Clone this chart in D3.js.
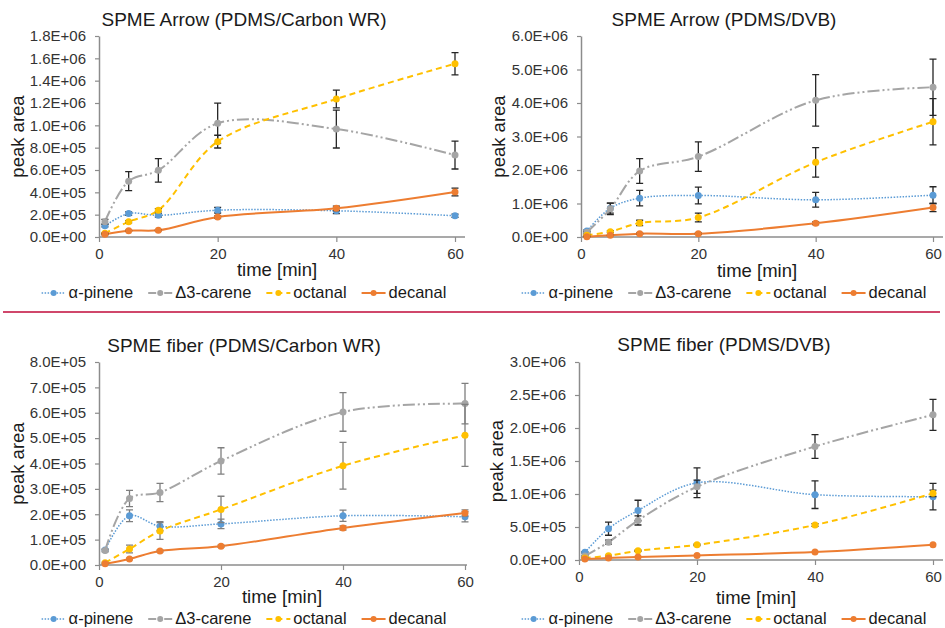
<!DOCTYPE html>
<html>
<head>
	<meta charset="utf-8">
	<title>SPME extraction time profiles</title>
	<style type="text/css">
		body {
			margin: 0;
			background: #fff;
			font-family: 'Liberation Sans', Arial, sans-serif;
		}
	</style>
	<script src="https://d3js.org/d3.v7.min.js"></script>
</head>
<body>
	<svg width="945" height="628"></svg>
	<script type="text/javascript">
		// extraction times [min]
		var times = [1, 5, 10, 20, 40, 60];
		var xTicks = [0, 20, 40, 60];
		var seriesNames = ['α-pinene', 'Δ3-carene', 'octanal', 'decanal'];
		var panelTitles = ['SPME Arrow (PDMS/Carbon WR)', 'SPME Arrow (PDMS/DVB)',
			'SPME fiber (PDMS/Carbon WR)', 'SPME fiber (PDMS/DVB)'];
		var yMaxes = [1.8e6, 6e6, 8e5, 3e6];
		var ySteps = [2e5, 1e6, 1e5, 5e5];

		// mean peak areas, one row per compound (same order as seriesNames)
		var arrowCarbonMean = [
			[1.0e5, 2.1e5, 1.94e5, 2.4e5, 2.35e5, 1.9e5],
			[1.37e5, 5.0e5, 5.97e5, 1.018e6, 9.67e5, 7.34e5],
			[3.3e4, 1.37e5, 2.4e5, 8.54e5, 1.236e6, 1.552e6],
			[2.4e4, 5.7e4, 6.0e4, 1.79e5, 2.57e5, 4.03e5]];
		var arrowCarbonErr = [
			[1.0e4, 1.5e4, 1.5e4, 2.5e4, 2.5e4, 1.5e4],
			[2.0e4, 8.5e4, 1.05e5, 1.8e5, 1.7e5, 1.25e5],
			[5e3, 1.0e4, 1.5e4, 5.7e4, 8.0e4, 1.0e5],
			[5e3, 5e3, 5e3, 1.0e4, 2.0e4, 3.5e4]];

		var arrowDvbMean = [
			[1.8e5, 8.6e5, 1.16e6, 1.24e6, 1.11e6, 1.25e6],
			[1.4e5, 8.4e5, 1.97e6, 2.4e6, 4.08e6, 4.47e6],
			[5e4, 1.6e5, 4.2e5, 5.8e5, 2.23e6, 3.44e6],
			[1e4, 5e4, 1.0e5, 1.0e5, 4.1e5, 8.8e5]];
		var arrowDvbErr = [
			[3e4, 1.5e5, 2.3e5, 2.5e5, 2.2e5, 2.5e5],
			[3e4, 1.7e5, 3.7e5, 4.4e5, 7.7e5, 8.4e5],
			[1e4, 3e4, 8e4, 1.3e5, 4.4e5, 6.9e5],
			[5e3, 1e4, 2e4, 2e4, 4e4, 1.2e5]];

		var fiberCarbonMean = [
			[5.9e4, 1.94e5, 1.53e5, 1.62e5, 1.94e5, 1.9e5],
			[5.7e4, 2.62e5, 2.86e5, 4.1e5, 6.03e5, 6.36e5],
			[9e3, 6.3e4, 1.34e5, 2.19e5, 3.91e5, 5.11e5],
			[5e3, 2.4e4, 5.5e4, 7.4e4, 1.46e5, 2.05e5]];
		var fiberCarbonErr = [
			[3e3, 2.3e4, 1.8e4, 1.9e4, 2.2e4, 2.0e4],
			[5e3, 3.2e4, 3.6e4, 5.2e4, 7.6e4, 8.0e4],
			[2e3, 1.5e4, 3.3e4, 5.2e4, 9.2e4, 1.22e5],
			[1e3, 3e3, 4e3, 4e3, 8e3, 1.2e4]];

		var fiberDvbMean = [
			[1.16e5, 4.75e5, 7.5e5, 1.17e6, 9.9e5, 9.6e5],
			[6e4, 2.7e5, 6.0e5, 1.11e6, 1.72e6, 2.2e6],
			[3e4, 6.5e4, 1.4e5, 2.3e5, 5.3e5, 1.01e6],
			[1.5e4, 3e4, 4.5e4, 7e4, 1.2e5, 2.3e5]];
		var fiberDvbErr = [
			[1e4, 1.0e5, 1.55e5, 2.25e5, 2.1e5, 2.0e5],
			[1e4, 3e4, 7e4, 1.0e5, 1.8e5, 2.35e5],
			[3e3, 5e3, 1e4, 1e4, 2e4, 5e4],
			[0, 0, 0, 0, 0, 0]];

		var panelMeans = [arrowCarbonMean, arrowDvbMean, fiberCarbonMean, fiberDvbMean];
		var panelErrs = [arrowCarbonErr, arrowDvbErr, fiberCarbonErr, fiberDvbErr];

		// series styles (Excel defaults)
		var colors = ['#5b9bd5', '#a5a5a5', '#ffc000', '#ed7d31'];
		var dashes = ['1.5,1.5', '12,3,2,3,2,3', '6,4', null];
		var widths = [1.5, 2, 2, 2];

		// plot areas in page pixels
		var layout = [
			{left: 99, right: 455, axisEnd: 465, top: 36, bottom: 237, titleX: 244, titleY: 26, xLabY: 276, legY: 298, yLabX: 19, errCol: '#262626'},
			{left: 581, right: 933, axisEnd: 943, top: 36, bottom: 237, titleX: 724, titleY: 26, xLabY: 277, legY: 298, yLabX: 500, errCol: '#262626'},
			{left: 99, right: 465, axisEnd: 467, top: 362, bottom: 565, titleX: 244, titleY: 352, xLabY: 603, legY: 624, yLabX: 19, errCol: '#7f7f7f'},
			{left: 579, right: 933, axisEnd: 943, top: 362, bottom: 560, titleX: 724, titleY: 351, xLabY: 604, legY: 624, yLabX: 498, errCol: '#262626'}];

		var svg = d3.select('svg');

		// 1.8E+06 style labels
		function sciFormat(v) {
			if (v === 0) return '0.0E+00';
			var e = Math.floor(Math.log10(v) + 1e-9);
			var m = v / Math.pow(10, e);
			return m.toFixed(1) + 'E+' + (e < 10 ? '0' + e : e);
		}

		var lineGen = d3.line().curve(d3.curveCatmullRom.alpha(0.5));

		// red divider between the two rows
		svg.append('line')
			.attr('x1', 3).attr('x2', 940)
			.attr('y1', 312).attr('y2', 312)
			.attr('stroke', '#c00a3a')
			.attr('stroke-width', 1.5);

		layout.forEach(function (p, pi) {
			var g = svg.append('g');
			var x = d3.scaleLinear().domain([0, 60]).range([p.left, p.right]);
			var y = d3.scaleLinear().domain([0, yMaxes[pi]]).range([p.bottom, p.top]);
			var yTicks = d3.range(0, yMaxes[pi] + ySteps[pi] / 2, ySteps[pi]);

			// y axis
			var yAx = g.append('g')
				.attr('transform', 'translate(' + p.left + ',0)')
				.call(d3.axisLeft(y).tickValues(yTicks).tickFormat(sciFormat).tickSize(4).tickSizeOuter(0).tickPadding(9));

			// x axis
			var xAx = g.append('g')
				.attr('transform', 'translate(0,' + p.bottom + ')')
				.call(d3.axisBottom(x).tickValues(xTicks).tickFormat(d3.format('d')).tickSize(5).tickSizeOuter(0).tickPadding(6));
			xAx.select('.domain').attr('d', 'M' + p.left + ',0H' + p.axisEnd);

			[yAx, xAx].forEach(function (ax) {
				ax.select('.domain').attr('stroke', '#8c8c8c').attr('stroke-width', 1.5);
				ax.selectAll('.tick line').attr('stroke', '#8c8c8c').attr('stroke-width', 1.2);
				ax.selectAll('.tick text')
					.attr('fill', '#333')
					.style('font-family', "'Liberation Sans', Arial, sans-serif")
					.style('font-size', '15px');
			});

			// series
			var means = panelMeans[pi];
			var errs = panelErrs[pi];
			seriesNames.forEach(function (name, si) {
				var pts = times.map(function (t, i) { return [x(t), y(means[si][i])]; });
				g.append('path')
					.attr('d', lineGen(pts))
					.attr('fill', 'none')
					.attr('stroke', colors[si])
					.attr('stroke-width', widths[si])
					.attr('stroke-dasharray', dashes[si]);

				times.forEach(function (t, i) {
					var er = errs[si][i];
					if (!er) return;
					var cx = x(t), y1 = y(means[si][i] + er), y2 = y(Math.max(0, means[si][i] - er));
					g.append('path')
						.attr('d', 'M' + cx + ',' + y1 + 'V' + y2 +
							'M' + (cx - 3.5) + ',' + y1 + 'H' + (cx + 3.5) +
							'M' + (cx - 3.5) + ',' + y2 + 'H' + (cx + 3.5))
						.attr('fill', 'none')
						.attr('stroke', p.errCol)
						.attr('stroke-width', 1.3);
				});

				g.selectAll(null)
					.data(times)
					.enter()
					.append('circle')
					.attr('cx', function (t) { return x(t); })
					.attr('cy', function (t, i) { return y(means[si][i]); })
					.attr('r', 3.5)
					.attr('fill', colors[si]);
			});

			// titles
			g.append('text')
				.attr('x', p.titleX).attr('y', p.titleY)
				.attr('text-anchor', 'middle')
				.style('font-size', '19px')
				.attr('fill', '#1a1a1a')
				.text(panelTitles[pi]);

			g.append('text')
				.attr('x', (p.left + p.right) / 2).attr('y', p.xLabY)
				.attr('text-anchor', 'middle')
				.style('font-size', '18.5px')
				.attr('fill', '#1a1a1a')
				.text('time [min]');

			g.append('text')
				.attr('transform', 'translate(' + (p.yLabX - 1) + ',' + (p.top + p.bottom) / 2 + ') rotate(-90)')
				.attr('text-anchor', 'middle')
				.attr('dy', '0.35em')
				.style('font-size', '18.5px')
				.attr('fill', '#1a1a1a')
				.text('peak area');

			// legend, centred under the title
			var leg = g.append('g');
			var cursor = 0;
			seriesNames.forEach(function (name, si) {
				var item = leg.append('g').attr('transform', 'translate(' + cursor + ',0)');
				item.append('line')
					.attr('x1', 0).attr('x2', 24)
					.attr('y1', -5).attr('y2', -5)
					.attr('stroke', colors[si])
					.attr('stroke-width', widths[si])
					.attr('stroke-dasharray', si === 1 ? '8,3,2,3' : dashes[si]);
				item.append('circle')
					.attr('cx', 12).attr('cy', -5).attr('r', 3)
					.attr('fill', colors[si]);
				var txt = item.append('text')
					.attr('x', 27).attr('y', 0)
					.style('font-size', '16.5px')
					.attr('fill', '#1a1a1a')
					.text(name);
				cursor += 27 + txt.node().getComputedTextLength() + 15;
			});
			var legW = cursor - 15;
			leg.attr('transform', 'translate(' + (p.titleX - legW / 2) + ',' + p.legY + ')');
		});
	</script>
</body>
</html>
